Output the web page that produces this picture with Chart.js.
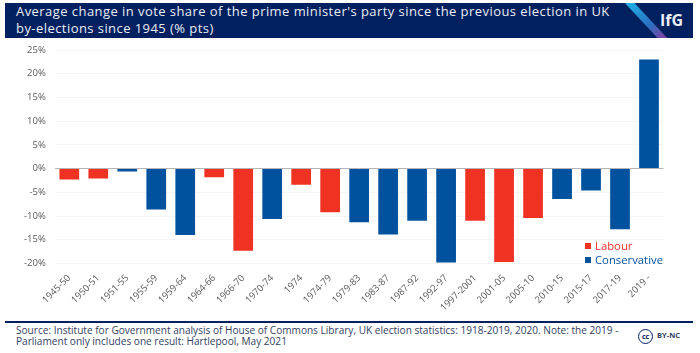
<!DOCTYPE html>
<html>
<head>
<meta charset="utf-8">
<script src="https://cdn.jsdelivr.net/npm/chart.js@4"></script>
<style>
    html, body { margin: 0; padding: 0; background: #fff; overflow: hidden; }
    body { width: 700px; height: 353px; position: relative; font-family: "Open Sans", sans-serif; }
    #banner { position: absolute; left: 5px; top: 3px; width: 688px; height: 35px; background: #00205f; overflow: hidden; }
    #title { position: absolute; left: 11px; top: 0; color: #e9edf4; font-size: 13px; line-height: 17px; letter-spacing: 0.44px; white-space: nowrap; }
    #slash { position: absolute; left: 638px; top: -9px; width: 7px; height: 54px; transform: rotate(-43deg);
        background: linear-gradient(#1fb4e6, #2b6fc0 60%, #8e3aa0); }
    #logo { position: absolute; left: 655px; top: 6px; color: #e9edf4; font-size: 16px; font-weight: 700; }
    #chart-wrap { position: absolute; left: 0; top: 40px; width: 700px; height: 280px; }
    #rule { position: absolute; left: 5px; top: 321px; width: 688px; height: 2px; background: #00205f; }
    #source { position: absolute; left: 16px; top: 325px; font-size: 10.08px; line-height: 10.5px; color: #33415f; white-space: nowrap; }
    #cc { position: absolute; left: 638px; top: 329px; width: 13px; height: 13px; border: 1.5px solid #00205f; border-radius: 50%;
        font-size: 7px; font-weight: 700; line-height: 13px; text-align: center; color: #00205f; }
    #cc-text { position: absolute; left: 657px; top: 330px; font-size: 7.5px; font-weight: 700; color: #33415f; }
    .legend-item { position: absolute; left: 585px; font-size: 11.3px; line-height: 14px; white-space: nowrap; }
    .legend-item i { display: inline-block; width: 6px; height: 6px; margin-right: 4px; vertical-align: 1px; }
</style>
</head>
<body>
<div id="banner">
    <div id="title">Average change in vote share of the prime minister's party since the previous election in UK<br>by-elections since 1945 (% pts)</div>
    <div id="slash"></div>
    <div id="logo">IfG</div>
</div>
<div id="chart-wrap"><canvas id="chart"></canvas></div>
<div class="legend-item" style="top:239px;color:#f03223"><i style="background:#f03223"></i>Labour</div>
<div class="legend-item" style="top:253px;color:#00529f"><i style="background:#00529f"></i>Conservative</div>
<div id="rule"></div>
<div id="source">Source: Institute for Government analysis of House of Commons Library, UK election statistics: 1918-2019, 2020. Note: the 2019 -<br>Parliament only includes one result: Hartlepool, May 2021</div>
<div id="cc">cc</div>
<div id="cc-text">BY-NC</div>
<script>
const parliaments = ['1945-50', '1950-51', '1951-55', '1955-59', '1959-64', '1964-66', '1966-70', '1970-74', '1974', '1974-79', '1979-83', '1983-87', '1987-92', '1992-97', '1997-2001', '2001-05', '2005-10', '2010-15', '2015-17', '2017-19', '2019 -'];
const labourValues = [-2.3, -2.1, null, null, null, -1.8, -17.3, null, -3.4, -9.2, null, null, null, null, -11, -19.7, -10.4, null, null, null, null];
const conservativeValues = [null, null, -0.6, -8.6, -14, null, null, -10.6, null, null, -11.3, -13.9, -11, -19.8, null, null, null, -6.4, -4.6, -12.8, 23];
const yTicks = [25, 20, 15, 10, 5, 0, -5, -10, -15, -20];

new Chart(document.getElementById('chart'), {
    type: 'bar',
    data: {
        labels: parliaments,
        datasets: [
            { label: 'Labour', data: labourValues, backgroundColor: '#f03223' },
            { label: 'Conservative', data: conservativeValues, backgroundColor: '#00529f' },
        ],
    },
    options: {
        responsive: true,
        maintainAspectRatio: false,
        animation: false,
        layout: { padding: { top: 10, right: 36.5 } },
        plugins: { legend: { display: false }, tooltip: { enabled: false } },
        datasets: { bar: { categoryPercentage: 1, barPercentage: 0.68 } },
        scales: {
            x: {
                stacked: true,
                position: 'bottom',
                grid: { display: false },
                border: { display: false },
                afterFit(scale) {
                    scale.height = 56.5;
                    scale.paddingLeft = 0;
                    scale.paddingRight = 0;
                },
                ticks: {
                    autoSkip: false,
                    maxRotation: 45,
                    minRotation: 45,
                    padding: 1,
                    color: '#5b5b5b',
                    font: { family: 'Open Sans', size: 9.5 },
                },
            },
            y: {
                stacked: true,
                min: -20,
                max: 25,
                afterFit(scale) {
                    // keep the plot top where the picture has it
                    scale.width = 54.8;
                    scale.paddingTop = 0;
                    scale.paddingBottom = 0;
                },
                afterBuildTicks(scale) { scale.ticks = yTicks.map((value) => ({ value })); },
                grid: {
                    color: (ctx) => (ctx.tick.value === 0 ? '#b4b4b4' : '#f5f5f5'),
                    drawTicks: false,
                },
                border: { display: false },
                ticks: {
                    padding: 9,
                    color: '#5b5b5b',
                    font: { family: 'Open Sans', size: 9.5 },
                    callback: (value) => value + '%',
                },
            },
        },
    },
});
</script>
</body>
</html>
